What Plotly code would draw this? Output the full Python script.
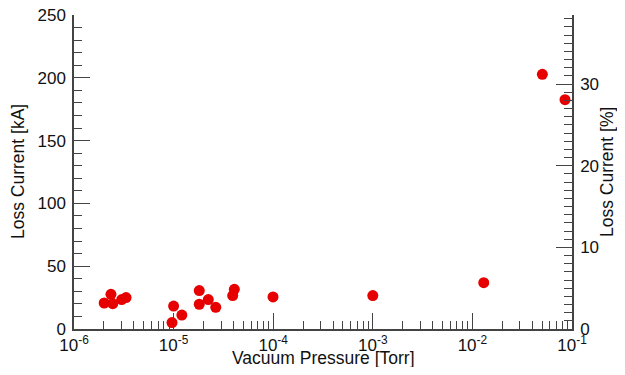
import plotly.graph_objects as go

# Data
pressure_torr = [2.01e-6, 2.35e-6, 2.45e-6, 3.01e-6, 3.33e-6,
                 9.64e-6, 1.0e-5, 1.21e-5, 1.81e-5, 1.81e-5,
                 2.23e-5, 2.65e-5, 3.92e-5, 4.07e-5, 9.96e-5,
                 1.0e-3, 1.30e-2, 5.04e-2, 8.51e-2]
loss_current_ka = [20.7, 27.6, 20.2, 23.4, 25.0,
                   5.1, 18.3, 11.1, 30.6, 19.7,
                   23.4, 17.3, 26.6, 31.6, 25.5,
                   26.6, 36.9, 202.8, 182.6]

x_tick_vals = [1e-6, 1e-5, 1e-4, 1e-3, 1e-2, 1e-1]
x_tick_text = ["10<sup>-6</sup>", "10<sup>-5</sup>", "10<sup>-4</sup>",
               "10<sup>-3</sup>", "10<sup>-2</sup>", "10<sup>-1</sup>"]
x_minor_vals = [k * 10.0 ** e for e in range(-6, -1) for k in range(2, 10)]

ka_per_percent = 6.5  # kA corresponding to 1 %
y_max_ka = 250
loss_current_pct = [v / ka_per_percent for v in loss_current_ka]

axis_color = "#444444"
font_family = "Liberation Sans, Arial, Helvetica, sans-serif"
title_size = 17.5
tick_size = 17

fig = go.Figure()
fig.add_trace(go.Scatter(
    x=pressure_torr, y=loss_current_ka, mode="markers",
    marker=dict(color="#e60000", size=11, line=dict(width=0)),
    cliponaxis=False, showlegend=False,
))
# Same points on the percent axis (transparent; keeps the right axis drawn)
fig.add_trace(go.Scatter(
    x=pressure_torr, y=loss_current_pct, mode="markers", yaxis="y2",
    marker=dict(color="rgba(0,0,0,0)", size=11),
    hoverinfo="skip", showlegend=False,
))

common_axis = dict(
    ticks="inside", ticklen=16, tickwidth=1.2, tickcolor=axis_color,
    showline=True, linecolor=axis_color, linewidth=1.5,
    showgrid=False, zeroline=False, automargin=False,
    ticklabeloverflow="allow",
    tickfont=dict(size=tick_size),
)

# The page body adds an 8 px offset; size the figure so the plot area
# lands where the reference has it.
fig.update_layout(
    width=617, height=359,
    margin=dict(l=66, r=53, t=7, b=38),
    paper_bgcolor="white", plot_bgcolor="white",
    font=dict(family=font_family, size=tick_size, color="#111111"),
    xaxis=dict(
        type="log", range=[-6, -1],
        tickmode="array", tickvals=x_tick_vals, ticktext=x_tick_text,
        minor=dict(tickmode="array", tickvals=x_minor_vals, ticks="inside",
                   ticklen=8, tickwidth=1.2, tickcolor=axis_color),
        **common_axis,
    ),
    yaxis=dict(
        range=[0, y_max_ka], dtick=50, ticklabelstandoff=3,
        minor=dict(dtick=10, ticks="inside", ticklen=8, tickwidth=1.2,
                   tickcolor=axis_color),
        **common_axis,
    ),
    yaxis2=dict(
        overlaying="y", side="right", anchor="x",
        range=[0, y_max_ka / ka_per_percent], dtick=10, ticklabelstandoff=3,
        minor=dict(dtick=1, ticks="inside", ticklen=8, tickwidth=1.2,
                   tickcolor=axis_color),
        **common_axis,
    ),
    annotations=[
        dict(text="Vacuum Pressure [Torr]", xref="paper", yref="paper",
             x=0.5, y=0, xanchor="center", yanchor="middle", yshift=-29,
             showarrow=False, font=dict(size=title_size)),
        dict(text="Loss Current [kA]", xref="paper", yref="paper",
             x=0, y=0.5, xanchor="center", yanchor="middle", xshift=-56,
             textangle=-90, showarrow=False, font=dict(size=title_size)),
        dict(text="Loss Current [%]", xref="paper", yref="paper",
             x=1, y=0.5, xanchor="center", yanchor="middle", xshift=35,
             textangle=-90, showarrow=False, font=dict(size=title_size)),
    ],
)

fig.write_html("out.html")
